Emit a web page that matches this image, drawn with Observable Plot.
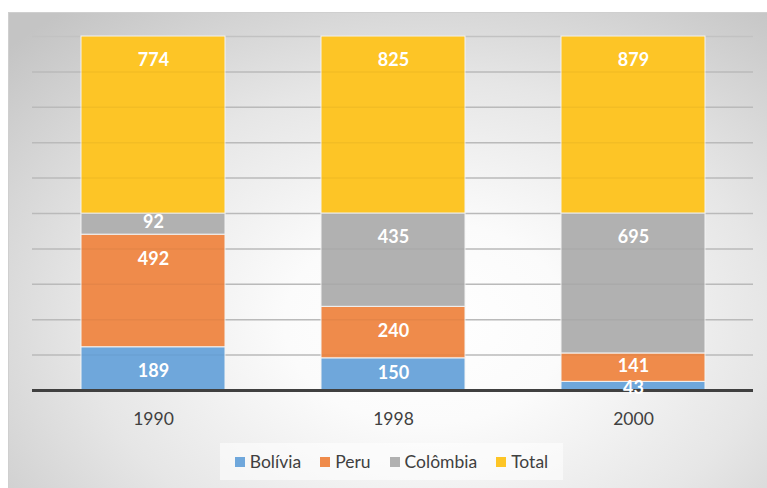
<!DOCTYPE html>
<html>
<head>
<meta charset="utf-8">
<script src="https://cdn.jsdelivr.net/npm/d3@7"></script>
<script src="https://cdn.jsdelivr.net/npm/@observablehq/plot@0.6"></script>
<style>
  html, body { margin: 0; padding: 0; background: #fff; }
  #wrap { position: relative; width: 767px; height: 488px; overflow: hidden; background: #fff; font-family: Lato, "Open Sans", sans-serif; }
  #panel { position: absolute; left: 8px; top: 12px; right: -2px; bottom: -2px;
    border: 1px solid #cfcfcf;
    background: radial-gradient(ellipse 75% 85% at 55% 65%, #ffffff 0%, #fbfbfb 25%, #e6e6e6 60%, #c4c4c4 100%); }
  #chart { position: absolute; left: 0; top: 0; }
  #legend { position: absolute; left: 220px; top: 443px; width: 343px; height: 37px;
    background: rgba(255,255,255,0.55); display: flex; align-items: center; justify-content: center; gap: 19px;
    font-size: 17.5px; color: #404040; }
  #legend .item { display: flex; align-items: center; }
  #legend .sw { width: 10px; height: 10px; margin-right: 5px; display: inline-block; }
</style>
</head>
<body>
<div id="wrap">
  <div id="panel"></div>
  <div id="chart"></div>
  <div id="legend"></div>
</div>
<script>
const years = ["1990", "1998", "2000"];
const seriesNames = ["Bolívia", "Peru", "Colômbia", "Total"];
const bolivia = [189, 150, 43];
const peru = [492, 240, 141];
const colombia = [92, 435, 695];
const total = [774, 825, 879];
const colors = ["#6fa7db", "#ef8b4b", "#b1b1b1", "#fdc526"];
const gridLevels = [0.1, 0.2, 0.3, 0.4, 0.5, 0.6, 0.7, 0.8, 0.9, 1.0];

const seriesValues = [bolivia, peru, colombia, total];
const rows = [];
years.forEach((yr, i) => {
  const sum = d3.sum(seriesValues, s => s[i]);
  let acc = 0;
  seriesValues.forEach((s, k) => {
    const y1 = acc / sum;
    acc += s[i];
    const y2 = acc / sum;
    const h = y2 - y1;
    rows.push({year: yr, series: seriesNames[k], value: s[i], y1, y2,
      ly: h > 0.1 ? y2 - 0.068 : (h < 0.05 ? y1 + 0.006 : (y1 + y2) / 2 + 0.004)});
  });
});

const plot = Plot.plot({
  width: 767,
  height: 440,
  marginLeft: 32,
  marginRight: 14,
  marginTop: 36,
  marginBottom: 50,
  style: {background: "transparent", fontFamily: "Lato, 'Open Sans', sans-serif"},
  x: {domain: years, paddingInner: 0.4, paddingOuter: 0.2, label: null},
  y: {domain: [0, 1], axis: null},
  color: {domain: seriesNames, range: colors},
  marks: [
    Plot.ruleY(gridLevels, {stroke: "#c2c2c2", strokeWidth: 1.5}),
    Plot.barY(rows, {x: "year", y1: "y1", y2: "y2", fill: "series", stroke: "#f3f3f3", strokeWidth: 1}),
    Plot.ruleY(gridLevels.slice(0, 9), {stroke: "#000", strokeOpacity: 0.04, strokeWidth: 1.5}),
    Plot.ruleY([0], {stroke: "#404040", strokeWidth: 3}),
    Plot.text(rows, {x: "year", y: "ly", text: d => String(d.value), fill: "white", fontWeight: "bold", fontSize: 18}),
    Plot.axisX({tickSize: 0, tickPadding: 22, fontSize: 17.5, label: null})
  ]
});
plot.querySelectorAll("g[aria-label='x-axis tick label']").forEach(e => e.setAttribute("fill", "#404040"));
document.getElementById("chart").appendChild(plot);

const legend = document.getElementById("legend");
seriesNames.forEach((name, k) => {
  const it = document.createElement("span");
  it.className = "item";
  const sw = document.createElement("span");
  sw.className = "sw";
  sw.style.background = colors[k];
  it.appendChild(sw);
  it.appendChild(document.createTextNode(name));
  legend.appendChild(it);
});
</script>
</body>
</html>
